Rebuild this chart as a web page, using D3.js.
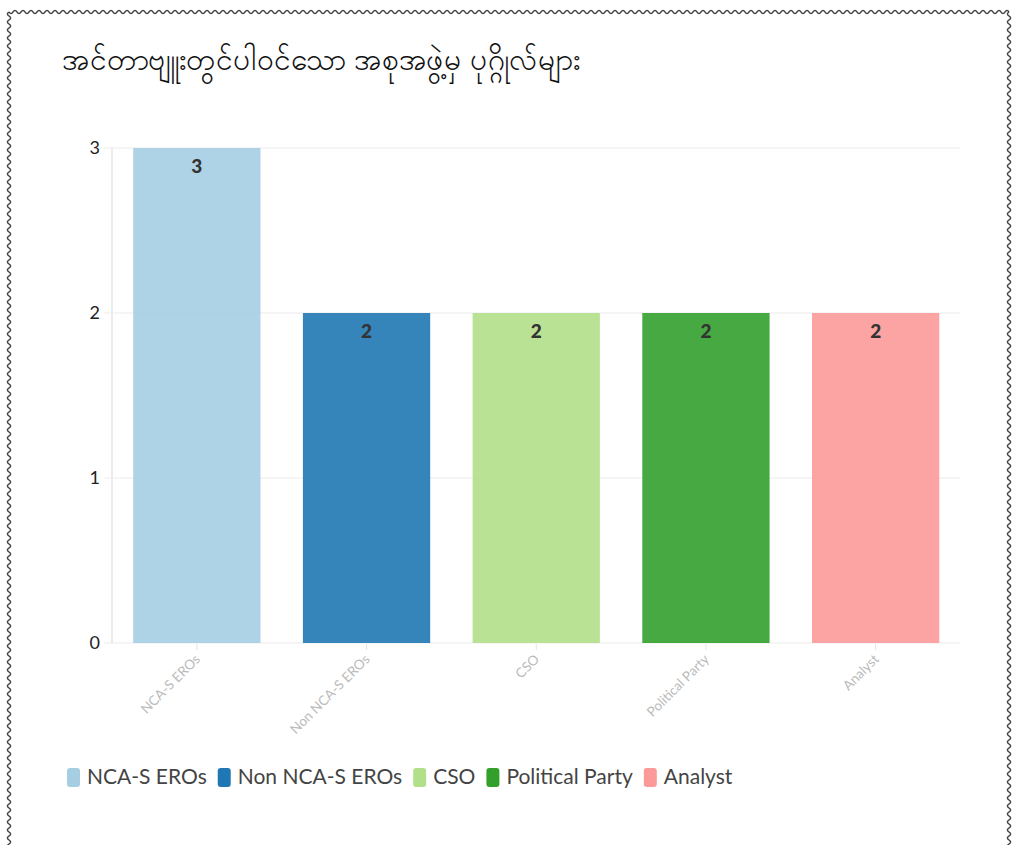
<!DOCTYPE html>
<html>
<head>
<meta charset="utf-8">
<script src="https://cdn.jsdelivr.net/npm/d3@7"></script>
<style>
  body { margin: 0; background: #fff; }
  svg { display: block; font-family: "Source Sans Pro", Lato, "Noto Sans", sans-serif; }
</style>
</head>
<body>
<div id="chart"></div>
<script>
const title = "အင်တာဗျူးတွင်ပါဝင်သော အစုအဖွဲ့မှ ပုဂ္ဂိုလ်များ"
const categories = ["NCA-S EROs", "Non NCA-S EROs", "CSO", "Political Party", "Analyst"]
const values = [3, 2, 2, 2, 2]
const colors = ["#a6cee3", "#1f78b4", "#b2df8a", "#33a02c", "#fb9a99"]
const yTicks = [0, 1, 2, 3]

const width = 1016
const height = 845
const margin = {top: 148, right: 56, bottom: 202, left: 112}

const svg = d3.select("#chart")
    .append("svg")
    .attr("width", width)
    .attr("height", height)

// wavy frame
function wavy(x0, y0, x1, y1) {
    const len = Math.hypot(x1 - x0, y1 - y0)
    const nx = -(y1 - y0) / len, ny = (x1 - x0) / len
    const pts = []
    for (let s = 0; s <= len; s += 1) {
        const a = 1.6 * Math.sin(s / 8 * 2 * Math.PI)
        pts.push([x0 + (x1 - x0) * s / len + nx * a, y0 + (y1 - y0) * s / len + ny * a])
    }
    return d3.line()(pts)
}
const frame = [[9, 12, 1009, 12], [9, 12, 9, 860], [1009, 12, 1009, 860]]
svg.selectAll("path.frame")
    .data(frame)
    .join("path")
    .attr("class", "frame")
    .attr("d", d => wavy(...d))
    .attr("fill", "none")
    .attr("stroke", "#444")
    .attr("stroke-width", 1.4)

svg.append("text")
    .attr("x", 62)
    .attr("y", 70)
    .attr("font-size", 30)
    .attr("font-weight", 500)
    .attr("fill", "#111")
    .attr("textLength", 518)
    .attr("lengthAdjust", "spacingAndGlyphs")
    .text(title)

const x = d3.scaleBand()
    .domain(categories)
    .range([margin.left, width - margin.right + 0.5])
    .paddingInner(0.25)
    .paddingOuter(0.125)

const y = d3.scaleLinear()
    .domain([0, 3])
    .range([height - margin.bottom, margin.top])

// grid
svg.append("g")
    .selectAll("line")
    .data(yTicks)
    .join("line")
    .attr("x1", margin.left - 8)
    .attr("x2", width - margin.right)
    .attr("y1", d => y(d))
    .attr("y2", d => y(d))
    .attr("stroke", "#ececec")
    .attr("stroke-width", 1.2)

svg.append("line")
    .attr("x1", margin.left)
    .attr("x2", margin.left)
    .attr("y1", y(3))
    .attr("y2", y(0))
    .attr("stroke", "#ececec")
    .attr("stroke-width", 2)

svg.append("g")
    .selectAll("text")
    .data(yTicks)
    .join("text")
    .attr("x", margin.left - 12)
    .attr("y", d => y(d))
    .attr("dy", "0.35em")
    .attr("text-anchor", "end")
    .attr("font-size", 18)
    .attr("fill", "#222")
    .text(d => d)

// bars
svg.append("g")
    .selectAll("rect")
    .data(categories)
    .join("rect")
    .attr("x", d => x(d))
    .attr("y", (d, i) => y(values[i]))
    .attr("width", x.bandwidth())
    .attr("height", (d, i) => y(0) - y(values[i]))
    .attr("fill", (d, i) => colors[i])
    .attr("fill-opacity", 0.9)

svg.append("g")
    .selectAll("text")
    .data(categories)
    .join("text")
    .attr("x", d => x(d) + x.bandwidth() / 2)
    .attr("y", (d, i) => y(values[i]) + 25)
    .attr("text-anchor", "middle")
    .attr("font-size", 19)
    .attr("font-weight", 900)
    .attr("fill", "#333")
    .text((d, i) => values[i])

// x axis ticks + labels
const xa = svg.append("g")
xa.selectAll("line")
    .data(categories)
    .join("line")
    .attr("x1", d => x(d) + x.bandwidth() / 2)
    .attr("x2", d => x(d) + x.bandwidth() / 2)
    .attr("y1", y(0) + 1)
    .attr("y2", y(0) + 7)
    .attr("stroke", "#e4e4e4")
xa.selectAll("text")
    .data(categories)
    .join("text")
    .attr("transform", d => `translate(${x(d) + x.bandwidth() / 2 + 4},${y(0) + 17}) rotate(-45)`)
    .attr("text-anchor", "end")
    .attr("font-size", 13.5)
    .attr("fill", "#bbb")
    .text(d => d)

// legend
const legend = svg.append("g").attr("transform", "translate(67,777)")
let lx = 0
categories.forEach((c, i) => {
    const g = legend.append("g").attr("transform", `translate(${lx},0)`)
    g.append("rect")
        .attr("x", 0)
        .attr("y", -9)
        .attr("width", 13)
        .attr("height", 19)
        .attr("rx", 3)
        .attr("fill", colors[i])
    const t = g.append("text")
        .attr("x", 20)
        .attr("dy", "0.35em")
        .attr("font-size", 21)
        .attr("fill", "#444")
        .text(c)
    lx += 20 + t.node().getComputedTextLength() + 11
})
</script>
</body>
</html>
